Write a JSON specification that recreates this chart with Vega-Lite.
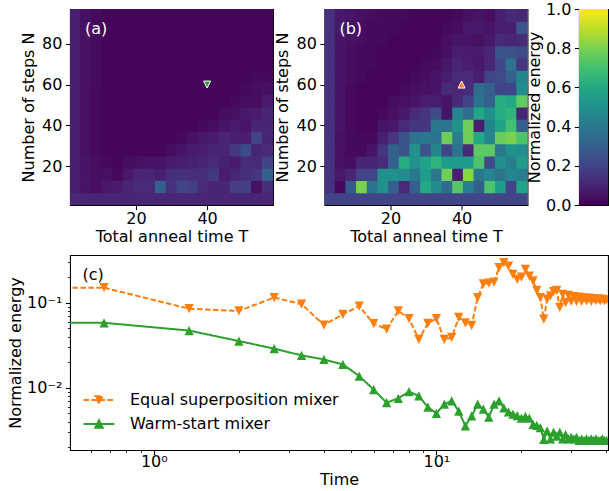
{
"$schema":"https://vega.github.io/schema/vega-lite/v6.json",
"background":"white",
"padding":{"left":7,"top":0,"right":0,"bottom":0},
"config":{
 "font":"DejaVu Sans",
 "view":{"stroke":"black","strokeWidth":1.07},
 "axis":{"domain":false,"grid":false,"tickColor":"black","tickSize":4.67,"tickWidth":1.07,"labelFont":"DejaVu Sans","labelFontSize":16,"labelColor":"black","labelPadding":3.5,"labelOverlap":false,"labelFlush":false,"titleFont":"DejaVu Sans","titleFontSize":16,"titleFontWeight":"normal","titleColor":"black","titlePadding":3},
 "axisX":{"labelPadding":0.5,"titlePadding":2},
 "axisY":{"titlePadding":5},
 "text":{"font":"DejaVu Sans"}
},
"datasets":{
 "heatA":[
{"T":3,"N":4,"v":0.11},{"T":6,"N":4,"v":0.1},{"T":9,"N":4,"v":0.1},{"T":12,"N":4,"v":0.1},{"T":15,"N":4,"v":0.1},{"T":18,"N":4,"v":0.1},{"T":21,"N":4,"v":0.1},{"T":24,"N":4,"v":0.1},{"T":27,"N":4,"v":0.1},{"T":30,"N":4,"v":0.1},{"T":33,"N":4,"v":0.1},{"T":36,"N":4,"v":0.1},{"T":39,"N":4,"v":0.1},{"T":42,"N":4,"v":0.1},{"T":45,"N":4,"v":0.1},{"T":48,"N":4,"v":0.1},{"T":51,"N":4,"v":0.1},{"T":54,"N":4,"v":0.1},{"T":57,"N":4,"v":0.1},
{"T":3,"N":10,"v":0.08},{"T":6,"N":10,"v":0.05},{"T":9,"N":10,"v":0.03},{"T":12,"N":10,"v":0.06},{"T":15,"N":10,"v":0.07},{"T":18,"N":10,"v":0.1},{"T":21,"N":10,"v":0.12},{"T":24,"N":10,"v":0.12},{"T":27,"N":10,"v":0.3},{"T":30,"N":10,"v":0.14},{"T":33,"N":10,"v":0.2},{"T":36,"N":10,"v":0.18},{"T":39,"N":10,"v":0.12},{"T":42,"N":10,"v":0.1},{"T":45,"N":10,"v":0.1},{"T":48,"N":10,"v":0.18},{"T":51,"N":10,"v":0.18},{"T":54,"N":10,"v":0.04},{"T":57,"N":10,"v":0.13},
{"T":3,"N":16,"v":0.08},{"T":6,"N":16,"v":0.05},{"T":9,"N":16,"v":0.03},{"T":12,"N":16,"v":0.04},{"T":15,"N":16,"v":0.02},{"T":18,"N":16,"v":0.06},{"T":21,"N":16,"v":0.1},{"T":24,"N":16,"v":0.1},{"T":27,"N":16,"v":0.08},{"T":30,"N":16,"v":0.13},{"T":33,"N":16,"v":0.14},{"T":36,"N":16,"v":0.13},{"T":39,"N":16,"v":0.13},{"T":42,"N":16,"v":0.16},{"T":45,"N":16,"v":0.07},{"T":48,"N":16,"v":0.1},{"T":51,"N":16,"v":0.13},{"T":54,"N":16,"v":0.15},{"T":57,"N":16,"v":0.3},
{"T":3,"N":22,"v":0.08},{"T":6,"N":22,"v":0.05},{"T":9,"N":22,"v":0.03},{"T":12,"N":22,"v":0.02},{"T":15,"N":22,"v":0.01},{"T":18,"N":22,"v":0.03},{"T":21,"N":22,"v":0.04},{"T":24,"N":22,"v":0.05},{"T":27,"N":22,"v":0.05},{"T":30,"N":22,"v":0.07},{"T":33,"N":22,"v":0.08},{"T":36,"N":22,"v":0.09},{"T":39,"N":22,"v":0.1},{"T":42,"N":22,"v":0.12},{"T":45,"N":22,"v":0.09},{"T":48,"N":22,"v":0.07},{"T":51,"N":22,"v":0.12},{"T":54,"N":22,"v":0.12},{"T":57,"N":22,"v":0.2},
{"T":3,"N":28,"v":0.08},{"T":6,"N":28,"v":0.04},{"T":9,"N":28,"v":0.02},{"T":12,"N":28,"v":0.01},{"T":15,"N":28,"v":0.01},{"T":18,"N":28,"v":0.01},{"T":21,"N":28,"v":0.01},{"T":24,"N":28,"v":0.01},{"T":27,"N":28,"v":0.01},{"T":30,"N":28,"v":0.03},{"T":33,"N":28,"v":0.05},{"T":36,"N":28,"v":0.07},{"T":39,"N":28,"v":0.08},{"T":42,"N":28,"v":0.1},{"T":45,"N":28,"v":0.1},{"T":48,"N":28,"v":0.16},{"T":51,"N":28,"v":0.22},{"T":54,"N":28,"v":0.1},{"T":57,"N":28,"v":0.12},
{"T":3,"N":34,"v":0.08},{"T":6,"N":34,"v":0.04},{"T":9,"N":34,"v":0.02},{"T":12,"N":34,"v":0.01},{"T":15,"N":34,"v":0.01},{"T":18,"N":34,"v":0.01},{"T":21,"N":34,"v":0.01},{"T":24,"N":34,"v":0.01},{"T":27,"N":34,"v":0.01},{"T":30,"N":34,"v":0.01},{"T":33,"N":34,"v":0.02},{"T":36,"N":34,"v":0.04},{"T":39,"N":34,"v":0.06},{"T":42,"N":34,"v":0.07},{"T":45,"N":34,"v":0.1},{"T":48,"N":34,"v":0.08},{"T":51,"N":34,"v":0.08},{"T":54,"N":34,"v":0.2},{"T":57,"N":34,"v":0.1},
{"T":3,"N":40,"v":0.08},{"T":6,"N":40,"v":0.04},{"T":9,"N":40,"v":0.02},{"T":12,"N":40,"v":0.01},{"T":15,"N":40,"v":0.01},{"T":18,"N":40,"v":0.01},{"T":21,"N":40,"v":0.01},{"T":24,"N":40,"v":0.01},{"T":27,"N":40,"v":0.01},{"T":30,"N":40,"v":0.01},{"T":33,"N":40,"v":0.01},{"T":36,"N":40,"v":0.01},{"T":39,"N":40,"v":0.02},{"T":42,"N":40,"v":0.03},{"T":45,"N":40,"v":0.05},{"T":48,"N":40,"v":0.07},{"T":51,"N":40,"v":0.05},{"T":54,"N":40,"v":0.1},{"T":57,"N":40,"v":0.1},
{"T":3,"N":46,"v":0.08},{"T":6,"N":46,"v":0.04},{"T":9,"N":46,"v":0.02},{"T":12,"N":46,"v":0.01},{"T":15,"N":46,"v":0.01},{"T":18,"N":46,"v":0.01},{"T":21,"N":46,"v":0.01},{"T":24,"N":46,"v":0.01},{"T":27,"N":46,"v":0.01},{"T":30,"N":46,"v":0.01},{"T":33,"N":46,"v":0.01},{"T":36,"N":46,"v":0.01},{"T":39,"N":46,"v":0.01},{"T":42,"N":46,"v":0.01},{"T":45,"N":46,"v":0.03},{"T":48,"N":46,"v":0.04},{"T":51,"N":46,"v":0.06},{"T":54,"N":46,"v":0.07},{"T":57,"N":46,"v":0.1},
{"T":3,"N":52,"v":0.08},{"T":6,"N":52,"v":0.04},{"T":9,"N":52,"v":0.02},{"T":12,"N":52,"v":0.01},{"T":15,"N":52,"v":0.01},{"T":18,"N":52,"v":0.01},{"T":21,"N":52,"v":0.01},{"T":24,"N":52,"v":0.01},{"T":27,"N":52,"v":0.01},{"T":30,"N":52,"v":0.01},{"T":33,"N":52,"v":0.01},{"T":36,"N":52,"v":0.01},{"T":39,"N":52,"v":0.01},{"T":42,"N":52,"v":0.01},{"T":45,"N":52,"v":0.01},{"T":48,"N":52,"v":0.02},{"T":51,"N":52,"v":0.03},{"T":54,"N":52,"v":0.03},{"T":57,"N":52,"v":0.07},
{"T":3,"N":58,"v":0.08},{"T":6,"N":58,"v":0.04},{"T":9,"N":58,"v":0.02},{"T":12,"N":58,"v":0.01},{"T":15,"N":58,"v":0.01},{"T":18,"N":58,"v":0.01},{"T":21,"N":58,"v":0.01},{"T":24,"N":58,"v":0.01},{"T":27,"N":58,"v":0.01},{"T":30,"N":58,"v":0.01},{"T":33,"N":58,"v":0.01},{"T":36,"N":58,"v":0.01},{"T":39,"N":58,"v":0.01},{"T":42,"N":58,"v":0.01},{"T":45,"N":58,"v":0.01},{"T":48,"N":58,"v":0.01},{"T":51,"N":58,"v":0.02},{"T":54,"N":58,"v":0.03},{"T":57,"N":58,"v":0.04},
{"T":3,"N":64,"v":0.08},{"T":6,"N":64,"v":0.04},{"T":9,"N":64,"v":0.025},{"T":12,"N":64,"v":0.01},{"T":15,"N":64,"v":0.01},{"T":18,"N":64,"v":0.01},{"T":21,"N":64,"v":0.01},{"T":24,"N":64,"v":0.01},{"T":27,"N":64,"v":0.01},{"T":30,"N":64,"v":0.01},{"T":33,"N":64,"v":0.01},{"T":36,"N":64,"v":0.01},{"T":39,"N":64,"v":0.01},{"T":42,"N":64,"v":0.01},{"T":45,"N":64,"v":0.01},{"T":48,"N":64,"v":0.01},{"T":51,"N":64,"v":0.01},{"T":54,"N":64,"v":0.02},{"T":57,"N":64,"v":0.02},
{"T":3,"N":70,"v":0.08},{"T":6,"N":70,"v":0.04},{"T":9,"N":70,"v":0.025},{"T":12,"N":70,"v":0.01},{"T":15,"N":70,"v":0.01},{"T":18,"N":70,"v":0.01},{"T":21,"N":70,"v":0.01},{"T":24,"N":70,"v":0.01},{"T":27,"N":70,"v":0.01},{"T":30,"N":70,"v":0.01},{"T":33,"N":70,"v":0.01},{"T":36,"N":70,"v":0.01},{"T":39,"N":70,"v":0.01},{"T":42,"N":70,"v":0.01},{"T":45,"N":70,"v":0.01},{"T":48,"N":70,"v":0.01},{"T":51,"N":70,"v":0.01},{"T":54,"N":70,"v":0.01},{"T":57,"N":70,"v":0.01},
{"T":3,"N":76,"v":0.08},{"T":6,"N":76,"v":0.04},{"T":9,"N":76,"v":0.025},{"T":12,"N":76,"v":0.01},{"T":15,"N":76,"v":0.01},{"T":18,"N":76,"v":0.01},{"T":21,"N":76,"v":0.01},{"T":24,"N":76,"v":0.01},{"T":27,"N":76,"v":0.01},{"T":30,"N":76,"v":0.01},{"T":33,"N":76,"v":0.01},{"T":36,"N":76,"v":0.01},{"T":39,"N":76,"v":0.01},{"T":42,"N":76,"v":0.01},{"T":45,"N":76,"v":0.01},{"T":48,"N":76,"v":0.01},{"T":51,"N":76,"v":0.01},{"T":54,"N":76,"v":0.01},{"T":57,"N":76,"v":0.01},
{"T":3,"N":82,"v":0.08},{"T":6,"N":82,"v":0.04},{"T":9,"N":82,"v":0.025},{"T":12,"N":82,"v":0.01},{"T":15,"N":82,"v":0.01},{"T":18,"N":82,"v":0.01},{"T":21,"N":82,"v":0.01},{"T":24,"N":82,"v":0.01},{"T":27,"N":82,"v":0.01},{"T":30,"N":82,"v":0.01},{"T":33,"N":82,"v":0.01},{"T":36,"N":82,"v":0.01},{"T":39,"N":82,"v":0.01},{"T":42,"N":82,"v":0.01},{"T":45,"N":82,"v":0.01},{"T":48,"N":82,"v":0.01},{"T":51,"N":82,"v":0.01},{"T":54,"N":82,"v":0.01},{"T":57,"N":82,"v":0.01},
{"T":3,"N":88,"v":0.08},{"T":6,"N":88,"v":0.04},{"T":9,"N":88,"v":0.025},{"T":12,"N":88,"v":0.01},{"T":15,"N":88,"v":0.01},{"T":18,"N":88,"v":0.01},{"T":21,"N":88,"v":0.01},{"T":24,"N":88,"v":0.01},{"T":27,"N":88,"v":0.01},{"T":30,"N":88,"v":0.01},{"T":33,"N":88,"v":0.01},{"T":36,"N":88,"v":0.01},{"T":39,"N":88,"v":0.01},{"T":42,"N":88,"v":0.01},{"T":45,"N":88,"v":0.01},{"T":48,"N":88,"v":0.01},{"T":51,"N":88,"v":0.01},{"T":54,"N":88,"v":0.01},{"T":57,"N":88,"v":0.01},
{"T":3,"N":94,"v":0.08},{"T":6,"N":94,"v":0.04},{"T":9,"N":94,"v":0.025},{"T":12,"N":94,"v":0.01},{"T":15,"N":94,"v":0.01},{"T":18,"N":94,"v":0.01},{"T":21,"N":94,"v":0.01},{"T":24,"N":94,"v":0.01},{"T":27,"N":94,"v":0.01},{"T":30,"N":94,"v":0.01},{"T":33,"N":94,"v":0.01},{"T":36,"N":94,"v":0.01},{"T":39,"N":94,"v":0.01},{"T":42,"N":94,"v":0.01},{"T":45,"N":94,"v":0.01},{"T":48,"N":94,"v":0.01},{"T":51,"N":94,"v":0.01},{"T":54,"N":94,"v":0.01},{"T":57,"N":94,"v":0.01}
 ],
 "heatB":[
{"T":3,"N":4,"v":0.2},{"T":6,"N":4,"v":0.2},{"T":9,"N":4,"v":0.2},{"T":12,"N":4,"v":0.2},{"T":15,"N":4,"v":0.2},{"T":18,"N":4,"v":0.2},{"T":21,"N":4,"v":0.2},{"T":24,"N":4,"v":0.2},{"T":27,"N":4,"v":0.2},{"T":30,"N":4,"v":0.2},{"T":33,"N":4,"v":0.2},{"T":36,"N":4,"v":0.2},{"T":39,"N":4,"v":0.2},{"T":42,"N":4,"v":0.2},{"T":45,"N":4,"v":0.2},{"T":48,"N":4,"v":0.2},{"T":51,"N":4,"v":0.2},{"T":54,"N":4,"v":0.2},{"T":57,"N":4,"v":0.2},
{"T":3,"N":10,"v":0.14},{"T":6,"N":10,"v":0.02},{"T":9,"N":10,"v":0.28},{"T":12,"N":10,"v":0.8},{"T":15,"N":10,"v":0.38},{"T":18,"N":10,"v":0.5},{"T":21,"N":10,"v":0.3},{"T":24,"N":10,"v":0.12},{"T":27,"N":10,"v":0.3},{"T":30,"N":10,"v":0.6},{"T":33,"N":10,"v":0.48},{"T":36,"N":10,"v":0.35},{"T":39,"N":10,"v":0.74},{"T":42,"N":10,"v":0.42},{"T":45,"N":10,"v":0.3},{"T":48,"N":10,"v":0.72},{"T":51,"N":10,"v":0.55},{"T":54,"N":10,"v":0.2},{"T":57,"N":10,"v":0.58},
{"T":3,"N":16,"v":0.14},{"T":6,"N":16,"v":0.06},{"T":9,"N":16,"v":0.1},{"T":12,"N":16,"v":0.2},{"T":15,"N":16,"v":0.2},{"T":18,"N":16,"v":0.5},{"T":21,"N":16,"v":0.5},{"T":24,"N":16,"v":0.48},{"T":27,"N":16,"v":0.4},{"T":30,"N":16,"v":0.55},{"T":33,"N":16,"v":0.4},{"T":36,"N":16,"v":0.78},{"T":39,"N":16,"v":0.08},{"T":42,"N":16,"v":0.82},{"T":45,"N":16,"v":0.4},{"T":48,"N":16,"v":0.45},{"T":51,"N":16,"v":0.38},{"T":54,"N":16,"v":0.45},{"T":57,"N":16,"v":0.42},
{"T":3,"N":22,"v":0.14},{"T":6,"N":22,"v":0.04},{"T":9,"N":22,"v":0.03},{"T":12,"N":22,"v":0.1},{"T":15,"N":22,"v":0.1},{"T":18,"N":22,"v":0.12},{"T":21,"N":22,"v":0.3},{"T":24,"N":22,"v":0.62},{"T":27,"N":22,"v":0.5},{"T":30,"N":22,"v":0.58},{"T":33,"N":22,"v":0.65},{"T":36,"N":22,"v":0.55},{"T":39,"N":22,"v":0.55},{"T":42,"N":22,"v":0.55},{"T":45,"N":22,"v":0.72},{"T":48,"N":22,"v":0.22},{"T":51,"N":22,"v":0.5},{"T":54,"N":22,"v":0.42},{"T":57,"N":22,"v":0.55},
{"T":3,"N":28,"v":0.14},{"T":6,"N":28,"v":0.04},{"T":9,"N":28,"v":0.02},{"T":12,"N":28,"v":0.02},{"T":15,"N":28,"v":0.05},{"T":18,"N":28,"v":0.15},{"T":21,"N":28,"v":0.3},{"T":24,"N":28,"v":0.25},{"T":27,"N":28,"v":0.5},{"T":30,"N":28,"v":0.25},{"T":33,"N":28,"v":0.45},{"T":36,"N":28,"v":0.2},{"T":39,"N":28,"v":0.38},{"T":42,"N":28,"v":0.12},{"T":45,"N":28,"v":0.75},{"T":48,"N":28,"v":0.75},{"T":51,"N":28,"v":0.4},{"T":54,"N":28,"v":0.5},{"T":57,"N":28,"v":0.48},
{"T":3,"N":34,"v":0.14},{"T":6,"N":34,"v":0.04},{"T":9,"N":34,"v":0.02},{"T":12,"N":34,"v":0.02},{"T":15,"N":34,"v":0.02},{"T":18,"N":34,"v":0.08},{"T":21,"N":34,"v":0.15},{"T":24,"N":34,"v":0.25},{"T":27,"N":34,"v":0.38},{"T":30,"N":34,"v":0.4},{"T":33,"N":34,"v":0.38},{"T":36,"N":34,"v":0.78},{"T":39,"N":34,"v":0.42},{"T":42,"N":34,"v":0.78},{"T":45,"N":34,"v":0.6},{"T":48,"N":34,"v":0.45},{"T":51,"N":34,"v":0.77},{"T":54,"N":34,"v":0.8},{"T":57,"N":34,"v":0.72},
{"T":3,"N":40,"v":0.14},{"T":6,"N":40,"v":0.05},{"T":9,"N":40,"v":0.02},{"T":12,"N":40,"v":0.01},{"T":15,"N":40,"v":0.01},{"T":18,"N":40,"v":0.05},{"T":21,"N":40,"v":0.06},{"T":24,"N":40,"v":0.12},{"T":27,"N":40,"v":0.15},{"T":30,"N":40,"v":0.15},{"T":33,"N":40,"v":0.4},{"T":36,"N":40,"v":0.38},{"T":39,"N":40,"v":0.5},{"T":42,"N":40,"v":0.78},{"T":45,"N":40,"v":0.08},{"T":48,"N":40,"v":0.45},{"T":51,"N":40,"v":0.58},{"T":54,"N":40,"v":0.7},{"T":57,"N":40,"v":0.3},
{"T":3,"N":46,"v":0.14},{"T":6,"N":46,"v":0.05},{"T":9,"N":46,"v":0.02},{"T":12,"N":46,"v":0.01},{"T":15,"N":46,"v":0.01},{"T":18,"N":46,"v":0.02},{"T":21,"N":46,"v":0.04},{"T":24,"N":46,"v":0.06},{"T":27,"N":46,"v":0.12},{"T":30,"N":46,"v":0.15},{"T":33,"N":46,"v":0.22},{"T":36,"N":46,"v":0.05},{"T":39,"N":46,"v":0.45},{"T":42,"N":46,"v":0.35},{"T":45,"N":46,"v":0.6},{"T":48,"N":46,"v":0.5},{"T":51,"N":46,"v":0.62},{"T":54,"N":46,"v":0.65},{"T":57,"N":46,"v":0.1},
{"T":3,"N":52,"v":0.14},{"T":6,"N":52,"v":0.05},{"T":9,"N":52,"v":0.02},{"T":12,"N":52,"v":0.01},{"T":15,"N":52,"v":0.01},{"T":18,"N":52,"v":0.01},{"T":21,"N":52,"v":0.03},{"T":24,"N":52,"v":0.04},{"T":27,"N":52,"v":0.05},{"T":30,"N":52,"v":0.08},{"T":33,"N":52,"v":0.08},{"T":36,"N":52,"v":0.05},{"T":39,"N":52,"v":0.12},{"T":42,"N":52,"v":0.2},{"T":45,"N":52,"v":0.38},{"T":48,"N":52,"v":0.3},{"T":51,"N":52,"v":0.62},{"T":54,"N":52,"v":0.6},{"T":57,"N":52,"v":0.76},
{"T":3,"N":58,"v":0.14},{"T":6,"N":58,"v":0.05},{"T":9,"N":58,"v":0.02},{"T":12,"N":58,"v":0.01},{"T":15,"N":58,"v":0.01},{"T":18,"N":58,"v":0.01},{"T":21,"N":58,"v":0.01},{"T":24,"N":58,"v":0.02},{"T":27,"N":58,"v":0.03},{"T":30,"N":58,"v":0.04},{"T":33,"N":58,"v":0.05},{"T":36,"N":58,"v":0.12},{"T":39,"N":58,"v":0.1},{"T":42,"N":58,"v":0.12},{"T":45,"N":58,"v":0.35},{"T":48,"N":58,"v":0.3},{"T":51,"N":58,"v":0.2},{"T":54,"N":58,"v":0.2},{"T":57,"N":58,"v":0.48},
{"T":3,"N":64,"v":0.14},{"T":6,"N":64,"v":0.05},{"T":9,"N":64,"v":0.03},{"T":12,"N":64,"v":0.02},{"T":15,"N":64,"v":0.01},{"T":18,"N":64,"v":0.01},{"T":21,"N":64,"v":0.01},{"T":24,"N":64,"v":0.01},{"T":27,"N":64,"v":0.02},{"T":30,"N":64,"v":0.03},{"T":33,"N":64,"v":0.05},{"T":36,"N":64,"v":0.08},{"T":39,"N":64,"v":0.12},{"T":42,"N":64,"v":0.12},{"T":45,"N":64,"v":0.08},{"T":48,"N":64,"v":0.2},{"T":51,"N":64,"v":0.22},{"T":54,"N":64,"v":0.3},{"T":57,"N":64,"v":0.45},
{"T":3,"N":70,"v":0.14},{"T":6,"N":70,"v":0.05},{"T":9,"N":70,"v":0.03},{"T":12,"N":70,"v":0.02},{"T":15,"N":70,"v":0.02},{"T":18,"N":70,"v":0.01},{"T":21,"N":70,"v":0.01},{"T":24,"N":70,"v":0.01},{"T":27,"N":70,"v":0.01},{"T":30,"N":70,"v":0.02},{"T":33,"N":70,"v":0.03},{"T":36,"N":70,"v":0.06},{"T":39,"N":70,"v":0.1},{"T":42,"N":70,"v":0.08},{"T":45,"N":70,"v":0.06},{"T":48,"N":70,"v":0.1},{"T":51,"N":70,"v":0.2},{"T":54,"N":70,"v":0.38},{"T":57,"N":70,"v":0.15},
{"T":3,"N":76,"v":0.14},{"T":6,"N":76,"v":0.05},{"T":9,"N":76,"v":0.03},{"T":12,"N":76,"v":0.02},{"T":15,"N":76,"v":0.02},{"T":18,"N":76,"v":0.01},{"T":21,"N":76,"v":0.01},{"T":24,"N":76,"v":0.01},{"T":27,"N":76,"v":0.01},{"T":30,"N":76,"v":0.01},{"T":33,"N":76,"v":0.02},{"T":36,"N":76,"v":0.04},{"T":39,"N":76,"v":0.08},{"T":42,"N":76,"v":0.07},{"T":45,"N":76,"v":0.07},{"T":48,"N":76,"v":0.1},{"T":51,"N":76,"v":0.25},{"T":54,"N":76,"v":0.25},{"T":57,"N":76,"v":0.22},
{"T":3,"N":82,"v":0.14},{"T":6,"N":82,"v":0.05},{"T":9,"N":82,"v":0.04},{"T":12,"N":82,"v":0.03},{"T":15,"N":82,"v":0.02},{"T":18,"N":82,"v":0.02},{"T":21,"N":82,"v":0.01},{"T":24,"N":82,"v":0.01},{"T":27,"N":82,"v":0.01},{"T":30,"N":82,"v":0.01},{"T":33,"N":82,"v":0.01},{"T":36,"N":82,"v":0.03},{"T":39,"N":82,"v":0.05},{"T":42,"N":82,"v":0.05},{"T":45,"N":82,"v":0.04},{"T":48,"N":82,"v":0.06},{"T":51,"N":82,"v":0.12},{"T":54,"N":82,"v":0.1},{"T":57,"N":82,"v":0.12},
{"T":3,"N":88,"v":0.14},{"T":6,"N":88,"v":0.06},{"T":9,"N":88,"v":0.04},{"T":12,"N":88,"v":0.03},{"T":15,"N":88,"v":0.02},{"T":18,"N":88,"v":0.02},{"T":21,"N":88,"v":0.02},{"T":24,"N":88,"v":0.01},{"T":27,"N":88,"v":0.01},{"T":30,"N":88,"v":0.01},{"T":33,"N":88,"v":0.01},{"T":36,"N":88,"v":0.02},{"T":39,"N":88,"v":0.03},{"T":42,"N":88,"v":0.06},{"T":45,"N":88,"v":0.06},{"T":48,"N":88,"v":0.05},{"T":51,"N":88,"v":0.08},{"T":54,"N":88,"v":0.08},{"T":57,"N":88,"v":0.25},
{"T":3,"N":94,"v":0.14},{"T":6,"N":94,"v":0.06},{"T":9,"N":94,"v":0.05},{"T":12,"N":94,"v":0.04},{"T":15,"N":94,"v":0.03},{"T":18,"N":94,"v":0.02},{"T":21,"N":94,"v":0.02},{"T":24,"N":94,"v":0.02},{"T":27,"N":94,"v":0.01},{"T":30,"N":94,"v":0.01},{"T":33,"N":94,"v":0.01},{"T":36,"N":94,"v":0.01},{"T":39,"N":94,"v":0.02},{"T":42,"N":94,"v":0.04},{"T":45,"N":94,"v":0.05},{"T":48,"N":94,"v":0.03},{"T":51,"N":94,"v":0.08},{"T":54,"N":94,"v":0.12},{"T":57,"N":94,"v":0.1}
 ],
 "markA":[{"T":40,"N":60}],
 "markB":[{"T":40,"N":60}],
 "labA":[{"T":5.7,"N":87,"label":"(a)"}],
 "labB":[{"T":5.7,"N":87,"label":"(b)"}],
 "labC":[{"Time":0.559,"E":0.2135,"label":"(c)"}],
 "cbar":[{"x0":0,"x1":1,"y0":0,"y1":1}],
 "lines":[
{"series":"Equal superposition mixer","Time":0.05,"E":0.15},
{"series":"Equal superposition mixer","Time":0.6667,"E":0.15},
{"series":"Equal superposition mixer","Time":1.3333,"E":0.085},
{"series":"Equal superposition mixer","Time":2,"E":0.08},
{"series":"Equal superposition mixer","Time":2.6667,"E":0.115},
{"series":"Equal superposition mixer","Time":3.3333,"E":0.096},
{"series":"Equal superposition mixer","Time":4,"E":0.0546},
{"series":"Equal superposition mixer","Time":4.6667,"E":0.073},
{"series":"Equal superposition mixer","Time":5.3333,"E":0.091},
{"series":"Equal superposition mixer","Time":6,"E":0.0566},
{"series":"Equal superposition mixer","Time":6.6667,"E":0.049},
{"series":"Equal superposition mixer","Time":7.3333,"E":0.08},
{"series":"Equal superposition mixer","Time":8,"E":0.065},
{"series":"Equal superposition mixer","Time":8.6667,"E":0.037},
{"series":"Equal superposition mixer","Time":9.3333,"E":0.057},
{"series":"Equal superposition mixer","Time":10,"E":0.065},
{"series":"Equal superposition mixer","Time":10.6667,"E":0.037},
{"series":"Equal superposition mixer","Time":11.3333,"E":0.039},
{"series":"Equal superposition mixer","Time":12,"E":0.067},
{"series":"Equal superposition mixer","Time":12.6667,"E":0.058},
{"series":"Equal superposition mixer","Time":13.3333,"E":0.054},
{"series":"Equal superposition mixer","Time":14,"E":0.115},
{"series":"Equal superposition mixer","Time":14.6667,"E":0.167},
{"series":"Equal superposition mixer","Time":15.3333,"E":0.17},
{"series":"Equal superposition mixer","Time":16,"E":0.175},
{"series":"Equal superposition mixer","Time":16.6667,"E":0.258},
{"series":"Equal superposition mixer","Time":17.3333,"E":0.295},
{"series":"Equal superposition mixer","Time":18,"E":0.27},
{"series":"Equal superposition mixer","Time":18.6667,"E":0.216},
{"series":"Equal superposition mixer","Time":19.3333,"E":0.188},
{"series":"Equal superposition mixer","Time":20,"E":0.2},
{"series":"Equal superposition mixer","Time":20.6667,"E":0.246},
{"series":"Equal superposition mixer","Time":21.3333,"E":0.205},
{"series":"Equal superposition mixer","Time":22,"E":0.18},
{"series":"Equal superposition mixer","Time":22.6667,"E":0.14},
{"series":"Equal superposition mixer","Time":23.3333,"E":0.115},
{"series":"Equal superposition mixer","Time":24,"E":0.064},
{"series":"Equal superposition mixer","Time":24.6667,"E":0.11},
{"series":"Equal superposition mixer","Time":25.3333,"E":0.12},
{"series":"Equal superposition mixer","Time":26,"E":0.135},
{"series":"Equal superposition mixer","Time":26.6667,"E":0.14},
{"series":"Equal superposition mixer","Time":27.3333,"E":0.088},
{"series":"Equal superposition mixer","Time":28,"E":0.125},
{"series":"Equal superposition mixer","Time":28.6667,"E":0.1},
{"series":"Equal superposition mixer","Time":29.3333,"E":0.122},
{"series":"Equal superposition mixer","Time":30,"E":0.104},
{"series":"Equal superposition mixer","Time":30.6667,"E":0.118},
{"series":"Equal superposition mixer","Time":31.3333,"E":0.104},
{"series":"Equal superposition mixer","Time":32,"E":0.116},
{"series":"Equal superposition mixer","Time":32.6667,"E":0.104},
{"series":"Equal superposition mixer","Time":33.3333,"E":0.114},
{"series":"Equal superposition mixer","Time":34,"E":0.105},
{"series":"Equal superposition mixer","Time":34.6667,"E":0.113},
{"series":"Equal superposition mixer","Time":35.3333,"E":0.104},
{"series":"Equal superposition mixer","Time":36,"E":0.112},
{"series":"Equal superposition mixer","Time":36.6667,"E":0.106},
{"series":"Equal superposition mixer","Time":37.3333,"E":0.111},
{"series":"Equal superposition mixer","Time":38,"E":0.105},
{"series":"Equal superposition mixer","Time":38.6667,"E":0.11},
{"series":"Equal superposition mixer","Time":39.3333,"E":0.106},
{"series":"Equal superposition mixer","Time":40,"E":0.108},
{"series":"Warm-start mixer","Time":0.05,"E":0.058},
{"series":"Warm-start mixer","Time":0.6667,"E":0.058},
{"series":"Warm-start mixer","Time":1.3333,"E":0.047},
{"series":"Warm-start mixer","Time":2,"E":0.0354},
{"series":"Warm-start mixer","Time":2.6667,"E":0.0288},
{"series":"Warm-start mixer","Time":3.3333,"E":0.024},
{"series":"Warm-start mixer","Time":4,"E":0.0215},
{"series":"Warm-start mixer","Time":4.6667,"E":0.0188},
{"series":"Warm-start mixer","Time":5.3333,"E":0.0137},
{"series":"Warm-start mixer","Time":6,"E":0.0095},
{"series":"Warm-start mixer","Time":6.6667,"E":0.00666},
{"series":"Warm-start mixer","Time":7.3333,"E":0.0075},
{"series":"Warm-start mixer","Time":8,"E":0.009},
{"series":"Warm-start mixer","Time":8.6667,"E":0.008},
{"series":"Warm-start mixer","Time":9.3333,"E":0.0059},
{"series":"Warm-start mixer","Time":10,"E":0.005},
{"series":"Warm-start mixer","Time":10.6667,"E":0.0064},
{"series":"Warm-start mixer","Time":11.3333,"E":0.007},
{"series":"Warm-start mixer","Time":12,"E":0.0053},
{"series":"Warm-start mixer","Time":12.6667,"E":0.00355},
{"series":"Warm-start mixer","Time":13.3333,"E":0.00465},
{"series":"Warm-start mixer","Time":14,"E":0.0064},
{"series":"Warm-start mixer","Time":14.6667,"E":0.0056},
{"series":"Warm-start mixer","Time":15.3333,"E":0.0045},
{"series":"Warm-start mixer","Time":16,"E":0.0064},
{"series":"Warm-start mixer","Time":16.6667,"E":0.007},
{"series":"Warm-start mixer","Time":17.3333,"E":0.0058},
{"series":"Warm-start mixer","Time":18,"E":0.0052},
{"series":"Warm-start mixer","Time":18.6667,"E":0.0049},
{"series":"Warm-start mixer","Time":19.3333,"E":0.0047},
{"series":"Warm-start mixer","Time":20,"E":0.0044},
{"series":"Warm-start mixer","Time":20.6667,"E":0.0046},
{"series":"Warm-start mixer","Time":21.3333,"E":0.0044},
{"series":"Warm-start mixer","Time":22,"E":0.0037},
{"series":"Warm-start mixer","Time":22.6667,"E":0.0036},
{"series":"Warm-start mixer","Time":23.3333,"E":0.0034},
{"series":"Warm-start mixer","Time":24,"E":0.00247},
{"series":"Warm-start mixer","Time":24.6667,"E":0.0031},
{"series":"Warm-start mixer","Time":25.3333,"E":0.0025},
{"series":"Warm-start mixer","Time":26,"E":0.003},
{"series":"Warm-start mixer","Time":26.6667,"E":0.0027},
{"series":"Warm-start mixer","Time":27.3333,"E":0.003},
{"series":"Warm-start mixer","Time":28,"E":0.0025},
{"series":"Warm-start mixer","Time":28.6667,"E":0.0028},
{"series":"Warm-start mixer","Time":29.3333,"E":0.0025},
{"series":"Warm-start mixer","Time":30,"E":0.0026},
{"series":"Warm-start mixer","Time":30.6667,"E":0.0025},
{"series":"Warm-start mixer","Time":31.3333,"E":0.0026},
{"series":"Warm-start mixer","Time":32,"E":0.0024},
{"series":"Warm-start mixer","Time":32.6667,"E":0.0025},
{"series":"Warm-start mixer","Time":33.3333,"E":0.0024},
{"series":"Warm-start mixer","Time":34,"E":0.0025},
{"series":"Warm-start mixer","Time":34.6667,"E":0.0024},
{"series":"Warm-start mixer","Time":35.3333,"E":0.0025},
{"series":"Warm-start mixer","Time":36,"E":0.0024},
{"series":"Warm-start mixer","Time":36.6667,"E":0.0025},
{"series":"Warm-start mixer","Time":37.3333,"E":0.0024},
{"series":"Warm-start mixer","Time":38,"E":0.0024},
{"series":"Warm-start mixer","Time":38.6667,"E":0.0025},
{"series":"Warm-start mixer","Time":39.3333,"E":0.0024},
{"series":"Warm-start mixer","Time":40,"E":0.0024}
 ]
},
"vconcat":[
 {"hconcat":[
  {"width":203,"height":196,
   "layer":[
    {"data":{"name":"heatA"},
     "mark":{"type":"point","shape":"M-0.9,-1H0.9V1H-0.9Z","size":169,"filled":true,"opacity":1,"strokeWidth":0,"clip":true},
     "encoding":{
      "x":{"field":"T","type":"quantitative","scale":{"domain":[1.5,58.5],"nice":false,"zero":false},"axis":{"values":[20,40],"title":"Total anneal time T"}},
      "y":{"field":"N","type":"quantitative","scale":{"domain":[1,97],"nice":false,"zero":false},"axis":{"values":[20,40,60,80],"title":"Number of steps N"}},
      "color":{"field":"v","type":"quantitative","scale":{"scheme":"viridis","domain":[0,1]},"legend":null}
     }},
    {"data":{"name":"markA"},
     "mark":{"type":"point","shape":"M0,1L-1,-1L1,-1Z","size":49,"filled":true,"fill":"#2ca02c","stroke":"white","strokeWidth":1,"opacity":1},
     "encoding":{"x":{"field":"T","type":"quantitative"},"y":{"field":"N","type":"quantitative"}}},
    {"data":{"name":"labA"},
     "mark":{"type":"text","align":"left","baseline":"middle","fontSize":16,"color":"white"},
     "encoding":{"x":{"field":"T","type":"quantitative"},"y":{"field":"N","type":"quantitative"},"text":{"field":"label","type":"nominal"}}}
   ]},
  {"width":203,"height":196,
   "layer":[
    {"data":{"name":"heatB"},
     "mark":{"type":"point","shape":"M-0.9,-1H0.9V1H-0.9Z","size":169,"filled":true,"opacity":1,"strokeWidth":0,"clip":true},
     "encoding":{
      "x":{"field":"T","type":"quantitative","scale":{"domain":[1.5,58.5],"nice":false,"zero":false},"axis":{"values":[20,40],"title":"Total anneal time T"}},
      "y":{"field":"N","type":"quantitative","scale":{"domain":[1,97],"nice":false,"zero":false},"axis":{"values":[20,40,60,80],"title":"Number of steps N"}},
      "color":{"field":"v","type":"quantitative","scale":{"scheme":"viridis","domain":[0,1]},"legend":null}
     }},
    {"data":{"name":"markB"},
     "mark":{"type":"point","shape":"M0,-1L-1,1L1,1Z","size":49,"filled":true,"fill":"#ff7f0e","stroke":"white","strokeWidth":1,"opacity":1},
     "encoding":{"x":{"field":"T","type":"quantitative"},"y":{"field":"N","type":"quantitative"}}},
    {"data":{"name":"labB"},
     "mark":{"type":"text","align":"left","baseline":"middle","fontSize":16,"color":"white"},
     "encoding":{"x":{"field":"T","type":"quantitative"},"y":{"field":"N","type":"quantitative"},"text":{"field":"label","type":"nominal"}}}
   ]},
  {"width":29,"height":196,
   "data":{"name":"cbar"},
   "mark":{"type":"rect","stroke":null,"fill":{"gradient":"linear","x1":0,"y1":1,"x2":0,"y2":0,"stops":[
     {"offset":0,"color":"#440154"},{"offset":0.1,"color":"#482475"},{"offset":0.2,"color":"#414487"},{"offset":0.3,"color":"#355f8d"},{"offset":0.4,"color":"#2a788e"},{"offset":0.5,"color":"#21918c"},{"offset":0.6,"color":"#22a884"},{"offset":0.7,"color":"#44bf70"},{"offset":0.8,"color":"#7ad151"},{"offset":0.9,"color":"#bddf26"},{"offset":1,"color":"#fde725"}]}},
   "encoding":{
    "x":{"field":"x0","type":"quantitative","scale":{"domain":[0,1],"nice":false,"zero":false},"axis":null},
    "x2":{"field":"x1"},
    "y":{"field":"y0","type":"quantitative","scale":{"domain":[0,1],"nice":false},"axis":{"values":[0,0.2,0.4,0.6,0.8,1],"format":".1f","title":"Normalized energy","titlePadding":3}},
    "y2":{"field":"y1"}
   }}
 ],"spacing":51.5,"bounds":"flush"},
 {"width":538,"height":195,
  "layer":[
   {"data":{"name":"lines"},
    "mark":{"type":"line","clip":true,"strokeWidth":2},
    "encoding":{
     "x":{"field":"Time","type":"quantitative","scale":{"type":"log","domain":[0.505,40.5],"nice":false},
       "axis":{"title":"Time","labelPadding":-1,"values":[0.6,0.7,0.8,0.9,1,2,3,4,5,6,7,8,9,10,20,30,40],
         "labelExpr":"datum.value == 1 ? '10⁰' : datum.value == 10 ? '10¹' : ''",
         "tickSize":{"condition":{"test":"datum.value == 1 || datum.value == 10","value":4.67},"value":2.67},
         "tickWidth":{"condition":{"test":"datum.value == 1 || datum.value == 10","value":1.07},"value":0.8}}},
     "y":{"field":"E","type":"quantitative","scale":{"type":"log","domain":[0.00185,0.364],"nice":false},
       "axis":{"title":"Normalized energy","titlePadding":3,"values":[0.002,0.003,0.004,0.005,0.006,0.007,0.008,0.009,0.01,0.02,0.03,0.04,0.05,0.06,0.07,0.08,0.09,0.1,0.2,0.3],
         "labelExpr":"datum.value == 0.1 ? '10⁻¹' : datum.value == 0.01 ? '10⁻²' : ''",
         "tickSize":{"condition":{"test":"datum.value == 0.1 || datum.value == 0.01","value":4.67},"value":2.67},
         "tickWidth":{"condition":{"test":"datum.value == 0.1 || datum.value == 0.01","value":1.07},"value":0.8}}},
     "color":{"field":"series","type":"nominal","scale":{"domain":["Equal superposition mixer","Warm-start mixer"],"range":["#ff7f0e","#2ca02c"]},
       "legend":{"orient":"none","legendX":20,"legendY":136,"title":null,"padding":0,"symbolType":"M-2,0L2,0","symbolSize":240,"symbolStrokeWidth":2,"labelFontSize":16,"labelFont":"DejaVu Sans","labelColor":"black","labelOffset":22,"rowPadding":7,"labelLimit":400,
         "encoding":{"symbols":{
           "shape":{"condition":{"test":"datum.value === 'Warm-start mixer'","value":"M-2,0L2,0M0,-0.47L-0.47,0.47L0.47,0.47Z"},"value":"M-2,0L2,0M0,0.47L-0.47,-0.47L0.47,-0.47Z"},
           "strokeDash":{"condition":{"test":"datum.value === 'Warm-start mixer'","value":[1,0]},"value":[5.55,2.4]},
           "fill":{"condition":{"test":"datum.value === 'Warm-start mixer'","value":"#2ca02c"},"value":"#ff7f0e"},
           "stroke":{"condition":{"test":"datum.value === 'Warm-start mixer'","value":"#2ca02c"},"value":"#ff7f0e"},
           "opacity":{"value":1}}}}},
     "strokeDash":{"field":"series","type":"nominal","scale":{"domain":["Equal superposition mixer","Warm-start mixer"],"range":[[5.55,2.4],[1,0]]},"legend":null}
    }},
   {"data":{"name":"lines"},
    "transform":[{"filter":"datum.Time > 0.1"}],
    "mark":{"type":"point","clip":true,"filled":true,"opacity":1,"size":86},
    "encoding":{
     "x":{"field":"Time","type":"quantitative"},
     "y":{"field":"E","type":"quantitative"},
     "color":{"field":"series","type":"nominal","legend":null},
     "shape":{"field":"series","type":"nominal","scale":{"domain":["Equal superposition mixer","Warm-start mixer"],"range":["M0,1L-1,-1L1,-1Z","M0,-1L-1,1L1,1Z"]},"legend":null}
    }},
   {"data":{"name":"labC"},
    "mark":{"type":"text","align":"left","baseline":"middle","fontSize":16,"color":"black"},
    "encoding":{"x":{"field":"Time","type":"quantitative"},"y":{"field":"E","type":"quantitative"},"text":{"field":"label","type":"nominal"}}}
  ]}
],
"spacing":8
}
